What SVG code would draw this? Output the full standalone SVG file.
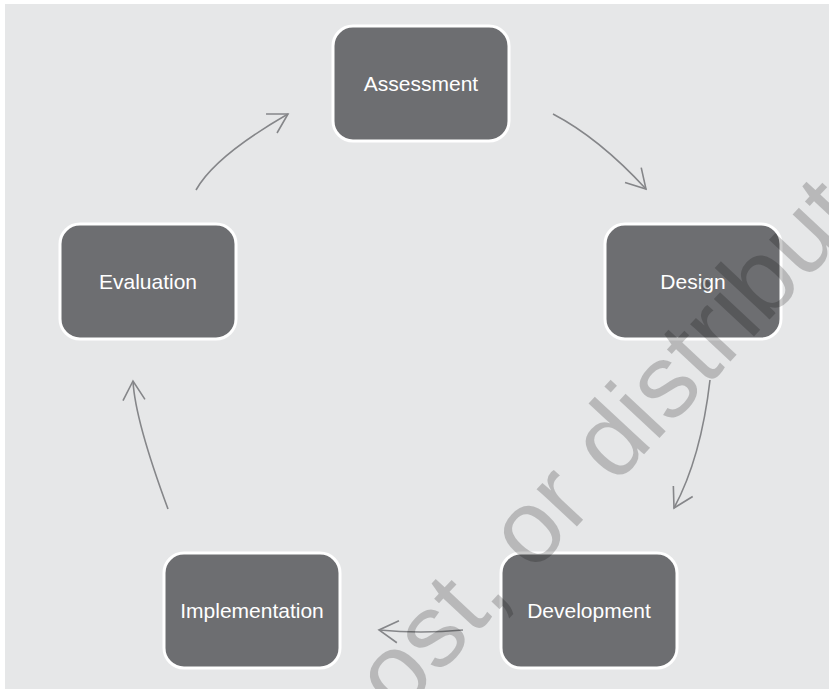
<svg xmlns="http://www.w3.org/2000/svg" width="829" height="689" viewBox="0 0 829 689">
<style>
.box{fill:#6d6e71;stroke:#ffffff;stroke-width:3}
.lbl{font-family:"Liberation Sans",Arial,sans-serif;font-size:21px;fill:#ffffff;text-anchor:middle}
.arr{fill:none;stroke:#858689;stroke-width:1.6;marker-end:url(#head)}
.wm{font-family:"Liberation Sans",Arial,sans-serif;font-size:104px;fill:#000000;fill-opacity:0.2}
</style>
<defs>
<marker id="head" markerUnits="userSpaceOnUse" viewBox="-22 -13 24 26" refX="0" refY="0" markerWidth="24" markerHeight="26" orient="auto">
<path d="M-19,-11 L0,0 L-19,11" fill="none" stroke="#858689" stroke-width="1.6"/>
</marker>
</defs>
<rect x="5" y="4" width="824" height="685" fill="#e6e7e8"/>
<g id="connectors">
<path class="arr" d="M553,114 Q599,138 646,189"/>
<path class="arr" d="M710,380 Q701,458 674,508"/>
<path class="arr" d="M463,630 Q421,634 379,630"/>
<path class="arr" d="M168,509 Q135,420 133,381"/>
<path class="arr" d="M196,190 Q215,156 288,114"/>
</g>
<g id="assessment"><rect class="box" x="333" y="26" width="176" height="115" rx="20"/><text class="lbl" x="421" y="91">Assessment</text></g>
<g id="design"><rect class="box" x="605" y="224" width="176" height="115" rx="20"/><text class="lbl" x="693" y="289">Design</text></g>
<g id="development"><rect class="box" x="501" y="553" width="176" height="115" rx="20"/><text class="lbl" x="589" y="618">Development</text></g>
<g id="implementation"><rect class="box" x="164" y="553" width="176" height="115" rx="20"/><text class="lbl" x="252" y="618">Implementation</text></g>
<g id="evaluation"><rect class="box" x="60" y="224" width="176" height="115" rx="20"/><text class="lbl" x="148" y="289">Evaluation</text></g>
<text class="wm" x="359" y="760" transform="rotate(-47 359 760)">post, or distribute</text>
</svg>
